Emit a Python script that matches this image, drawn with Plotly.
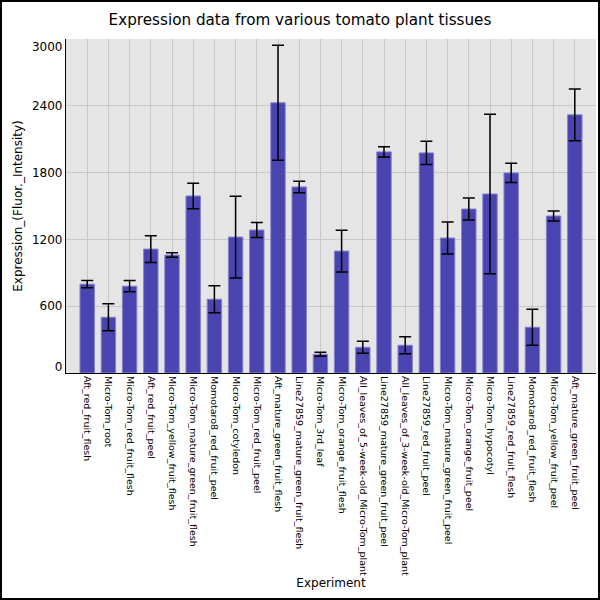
import plotly.graph_objects as go

experiments = [
    "Aft_red_fruit_flesh", "Micro-Tom_root", "Micro-Tom_red_fruit_flesh",
    "Aft_red_fruit_peel", "Micro-Tom_yellow_fruit_flesh",
    "Micro-Tom_mature_green_fruit_flesh", "Momotaro8_red_fruit_peel",
    "Micro-Tom_cotyledon", "Micro-Tom_red_fruit_peel",
    "Aft_mature_green_fruit_flesh", "Line27859_mature_green_fruit_flesh",
    "Micro-Tom_3rd_leaf", "Micro-Tom_orange_fruit_flesh",
    "All_leaves_of_5-week-old_Micro-Tom_plant",
    "Line27859_mature_green_fruit_peel",
    "All_leaves_of_3-week-old_Micro-Tom_plant", "Line27859_red_fruit_peel",
    "Micro-Tom_mature_green_fruit_peel", "Micro-Tom_orange_fruit_peel",
    "Micro-Tom_hypocotyl", "Line27859_red_fruit_flesh",
    "Momotaro8_red_fruit_flesh", "Micro-Tom_yellow_fruit_peel",
    "Aft_mature_green_fruit_peel",
]
expression = [798, 501, 780, 1113, 1059, 1590, 663, 1221, 1284, 2427, 1671,
              168, 1095, 231, 1986, 249, 1977, 1212, 1473, 1608, 1797, 411,
              1410, 2319]
std_err = [33, 121, 51, 120, 20, 115, 121, 367, 68, 517, 51, 18, 188, 54,
           46, 77, 105, 144, 99, 716, 86, 162, 45, 232]

# label positions for the y ticks (end labels sit a bit inside the frame)
ytick_vals = [54, 600, 1200, 1800, 2400, 2929]
ytick_text = ["0", "600", "1200", "1800", "2400", "3000"]
ygrid_vals = [600, 1200, 1800, 2400]

W, H = 600, 600
ml, mr, mt, mb = 66, 4, 39, 227

fig = go.Figure()
fig.add_trace(go.Bar(
    x=experiments, y=expression, width=0.68,
    marker=dict(color="#4a44b1", line=dict(color="#8580cc", width=1)),
    error_y=dict(type="data", array=std_err, color="black",
                 thickness=1.5, width=6),
))

pw = W - ml - mr
ph = H - mt - mb
fig.add_shape(type="rect", xref="paper", yref="paper",
              x0=-(ml - 1) / pw, x1=(W - ml - 1) / pw,
              y0=-(mb - 1) / ph, y1=(H - mb - 1) / ph,
              line=dict(color="black", width=2), layer="above")

fig.update_layout(
    width=W, height=H,
    margin=dict(l=ml, r=mr, t=mt, b=mb, autoexpand=False),
    paper_bgcolor="white", plot_bgcolor="#e5e5e5",
    font=dict(family="DejaVu Sans", color="black"),
    showlegend=False,
    title=dict(text="Expression data from various tomato plant tissues",
               x=0.5, xanchor="center", y=1 - 20 / H, yanchor="middle",
               font=dict(size=15.2)),
)
fig.update_xaxes(
    title=dict(text="Experiment", font=dict(size=12), standoff=1),
    range=[-1, 24], tickangle=90, tickfont=dict(size=9.5),
    showgrid=True, gridcolor="#c8c8c8", gridwidth=1.2, automargin=False,
    showline=True, linecolor="black", linewidth=1.2, ticks="",
)
fig.update_yaxes(
    title=dict(text="Expression_(Fluor._Intensity)", font=dict(size=12),
               standoff=6),
    range=[0, 3000], tickvals=ytick_vals, ticktext=ytick_text,
    tickfont=dict(size=12), showgrid=False, zeroline=False, automargin=False,
    minor=dict(tickvals=ygrid_vals, showgrid=True, gridcolor="#c8c8c8",
               gridwidth=1.2, ticks=""),
    showline=True, linecolor="black", linewidth=1.2, ticks="",
)

# the page has no body margin in the reference
fig.write_html("out.html", config={"displayModeBar": False},
               post_script="document.body.style.margin='0';")
